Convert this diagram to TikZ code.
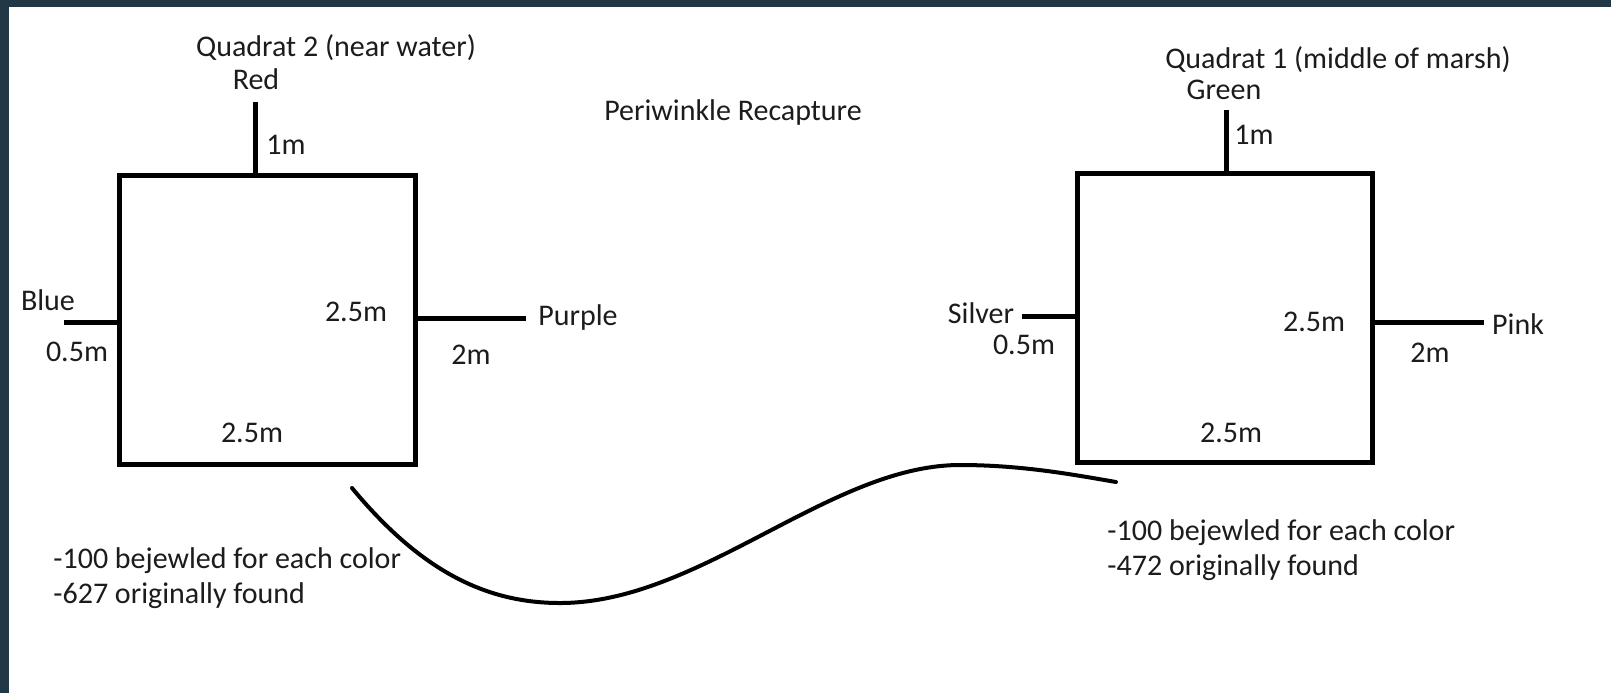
\documentclass[tikz,border=0pt]{standalone}
\usepackage{fontspec}
\setmainfont{Carlito}
\usepackage{xcolor}
\usepackage{tikz}
\usetikzlibrary{calc}
\definecolor{frame}{RGB}{35,56,71}
\definecolor{ink}{RGB}{28,28,28}

\begin{document}
\begin{tikzpicture}[x=0.5pt,y=-0.5pt,
        lbl/.style={text=ink,font=\fontsize{15}{18}\selectfont,inner sep=0pt},
        side/.style={line width=2.5pt},
        stub/.style={line width=2.5pt},
        path/.style={line width=2pt,line cap=round}]
        %%% FRAME %%%
        \fill[white] (0,0) rectangle (1611,693);
        \fill[frame] (0,0) rectangle (1611,7);
        \fill[frame] (0,0) rectangle (9,693);
        \useasboundingbox (0,0) rectangle (1611,693);

        %%% COORDINATES %%%
        \draw (119,175) coordinate (Anw);
        \draw (415,464) coordinate (Ase);
        \draw (1077,173) coordinate (Bnw);
        \draw (1372,462) coordinate (Bse);
        \draw (255,175) coordinate (Atop);
        \draw (255,102) coordinate (red);
        \draw (119,322) coordinate (Aleft);
        \draw (64,322) coordinate (blue);
        \draw (415,318) coordinate (Aright);
        \draw (526,318) coordinate (purple);
        \draw (1226,173) coordinate (Btop);
        \draw (1226,110) coordinate (green);
        \draw (1077,316) coordinate (Bleft);
        \draw (1022,316) coordinate (silver);
        \draw (1372,322) coordinate (Bright);
        \draw (1484,322) coordinate (pink);
        \draw (352,488) coordinate (s);
        \draw (560,603) coordinate (low);
        \draw (960,465) coordinate (high);
        \draw (1116,482) coordinate (e);

        %%% QUADRATS %%%
        \draw[side] (Anw) rectangle (Ase);
        \draw[side] (Bnw) rectangle (Bse);

        %%% STUBS %%%
        \draw[stub] (Atop)--(red);
        \draw[stub] (Aleft)--(blue);
        \draw[stub] (Aright)--(purple);
        \draw[stub] (Btop)--(green);
        \draw[stub] (Bleft)--(silver);
        \draw[stub] (Bright)--(pink);

        %%% CURVE %%%
        \draw[path] (s) .. controls (420,570) and (485,603) .. (low)
            .. controls (700,603) and (830,465) .. (high)
            .. controls (1020,465) and (1070,474) .. (e);

        %%% LABELS QUADRAT 2 %%%
        \node[lbl] (titleA) at (336,48) {Quadrat 2 (near water)};
        \node[lbl] (redlbl) at (256,79) {Red};
        \node[lbl] (topA) at (286,145) {1m};
        \node[lbl] (bluelbl) at (48,300) {Blue};
        \node[lbl] (leftA) at (77,352) {0.5m};
        \node[lbl] (sideA) at (356,312) {2.5m};
        \node[lbl] (baseA) at (252,433) {2.5m};
        \node[lbl] (rightA) at (471,355) {2m};
        \node[lbl] (purplelbl) at (578,317) {Purple};

        \node[lbl] (heading) at (733,112) {Periwinkle Recapture};

        %%% LABELS QUADRAT 1 %%%
        \node[lbl] (titleB) at (1338,60) {Quadrat 1 (middle of marsh)};
        \node[lbl] (greenlbl) at (1224,90) {Green};
        \node[lbl] (topB) at (1254,135) {1m};
        \node[lbl] (silverlbl) at (981,313) {Silver};
        \node[lbl] (leftB) at (1024,345) {0.5m};
        \node[lbl] (sideB) at (1314,322) {2.5m};
        \node[lbl] (baseB) at (1231,433) {2.5m};
        \node[lbl] (rightB) at (1430,353) {2m};
        \node[lbl] (pinklbl) at (1518,324) {Pink};

        %%% NOTES %%%
        \node[lbl,anchor=west] (noteA1) at (53,561) {-100 bejewled for each color};
        \node[lbl,anchor=west] (noteA2) at (53,596) {-627 originally found};
        \node[lbl,anchor=west] (noteB1) at (1107,533) {-100 bejewled for each color};
        \node[lbl,anchor=west] (noteB2) at (1107,568) {-472 originally found};
    \end{tikzpicture}
\end{document}
